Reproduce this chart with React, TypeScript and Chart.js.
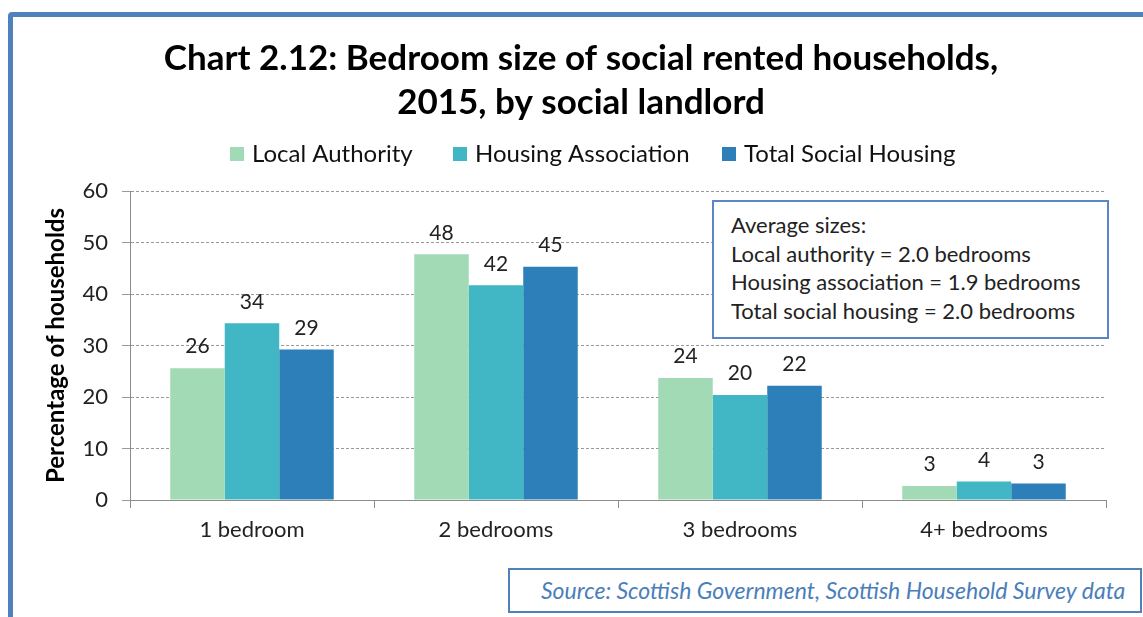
import React, { useEffect, useRef } from "react";
import { Chart, registerables } from "chart.js";

Chart.register(...registerables);

const FONT = "Lato, 'Open Sans', sans-serif";

const titleLines = [
  "Chart 2.12: Bedroom size of social rented households,",
  "2015, by social landlord",
];
const categories = ["1 bedroom", "2 bedrooms", "3 bedrooms", "4+ bedrooms"];
const seriesNames = ["Local Authority", "Housing Association", "Total Social Housing"];
const localAuthority = [25.6, 47.7, 23.7, 2.7];
const housingAssociation = [34.3, 41.7, 20.4, 3.6];
const totalSocialHousing = [29.2, 45.3, 22.2, 3.2];
const seriesColors = ["#A1DAB4", "#41B6C4", "#2C7FB8"];
const yMin = 0;
const yMax = 60;
const yStep = 10;
const yAxisTitle = "Percentage of households";
const noteLines = [
  "Average sizes:",
  "Local authority = 2.0 bedrooms",
  "Housing association = 1.9 bedrooms",
  "Total social housing = 2.0 bedrooms",
];
const sourceText = "Source: Scottish Government, Scottish Household Survey data";

const headerPlugin = {
  id: "header",
  afterDraw(chart: any) {
    const ctx = chart.ctx;
    ctx.save();
    ctx.fillStyle = "#000";
    ctx.font = `bold 35px ${FONT}`;
    ctx.textAlign = "center";
    ctx.textBaseline = "alphabetic";
    ctx.fillText(titleLines[0], 581, 70);
    ctx.fillText(titleLines[1], 581, 114);
    ctx.font = `24px ${FONT}`;
    ctx.textAlign = "left";
    const xs = [230, 453, 722];
    chart.data.datasets.forEach((ds: any, i: number) => {
      ctx.fillStyle = ds.backgroundColor;
      ctx.fillRect(xs[i], 147, 14, 14);
      ctx.fillStyle = "#111";
      ctx.fillText(ds.label, xs[i] + 22, 162);
    });
    ctx.restore();
  },
};

const valueLabelPlugin = {
  id: "valueLabels",
  afterDatasetsDraw(chart: any) {
    const ctx = chart.ctx;
    ctx.save();
    ctx.font = `21px ${FONT}`;
    ctx.fillStyle = "#222";
    ctx.textAlign = "center";
    ctx.textBaseline = "bottom";
    chart.data.datasets.forEach((ds: any, i: number) => {
      const meta = chart.getDatasetMeta(i);
      meta.data.forEach((bar: any, j: number) => {
        ctx.fillText(String(Math.round(ds.data[j])), bar.x, bar.y - 11);
      });
    });
    ctx.restore();
  },
};

export default function App() {
  const canvasRef = useRef<HTMLCanvasElement | null>(null);

  useEffect(() => {
    document.body.style.margin = "0";
    const canvas = canvasRef.current;
    if (!canvas) return;
    const chart = new Chart(canvas, {
      type: "bar",
      data: {
        labels: categories,
        datasets: [
          { label: seriesNames[0], data: localAuthority, backgroundColor: seriesColors[0] },
          { label: seriesNames[1], data: housingAssociation, backgroundColor: seriesColors[1] },
          { label: seriesNames[2], data: totalSocialHousing, backgroundColor: seriesColors[2] },
        ],
      },
      options: {
        responsive: false,
        animation: false,
        layout: { padding: { top: 191, left: 42, right: 37, bottom: 67 } },
        datasets: {
          bar: { categoryPercentage: 0.67, barPercentage: 1.0, borderWidth: 0 },
        },
        plugins: {
          legend: { display: false },
          title: { display: false },
          tooltip: { enabled: false },
        },
        scales: {
          x: {
            afterFit: (scale: any) => {
              scale.height = 50;
            },
            grid: {
              offset: true,
              drawOnChartArea: false,
              drawTicks: true,
              tickLength: 8,
              color: "#8C8C8C",
            },
            border: { display: true, color: "#8C8C8C", width: 1 },
            ticks: {
              padding: 9,
              color: "#222",
              font: { family: FONT, size: 22 },
            },
          },
          y: {
            min: yMin,
            max: yMax,
            afterFit: (scale: any) => {
              scale.width = 88;
            },
            ticks: {
              stepSize: yStep,
              padding: 14,
              color: "#222",
              font: { family: FONT, size: 22 },
            },
            grid: {
              color: "#9A9A9A",
              tickLength: 8,
            },
            border: { display: true, color: "#8C8C8C", width: 1, dash: [3, 2] },
            title: {
              display: true,
              text: yAxisTitle,
              color: "#000",
              font: { family: FONT, size: 24, weight: "bold" },
              padding: { top: 0, bottom: 0 },
            },
          },
        },
      },
      plugins: [headerPlugin, valueLabelPlugin],
    });
    return () => chart.destroy();
  }, []);

  return (
    <div style={{ position: "relative", width: 1143, height: 617, background: "#fff", overflow: "hidden", fontFamily: FONT }}>
      <div
        style={{
          position: "absolute",
          left: 8,
          top: 12,
          width: 1200,
          height: 700,
          border: "5px solid #4F81BD",
          borderRadius: 4,
          boxSizing: "border-box",
        }}
      />
      <canvas ref={canvasRef} width={1143} height={617} style={{ position: "absolute", left: 0, top: 0 }} />
      <div
        style={{
          position: "absolute",
          left: 712,
          top: 200,
          width: 397,
          height: 139,
          border: "2px solid #5B86C5",
          boxSizing: "border-box",
          background: "#fff",
          padding: "9px 0 0 17px",
          fontSize: 22,
          lineHeight: "28.5px",
          color: "#222",
          whiteSpace: "nowrap",
        }}
      >
        {noteLines.map((l) => (
          <div key={l}>{l}</div>
        ))}
      </div>
      <div
        style={{
          position: "absolute",
          left: 508,
          top: 568,
          width: 634,
          height: 45,
          border: "2px solid #4F81BD",
          boxSizing: "border-box",
          background: "#fff",
          paddingLeft: 31,
          fontSize: 23,
          lineHeight: "41px",
          fontStyle: "italic",
          color: "#4A7EBB",
          whiteSpace: "nowrap",
        }}
      >
        {sourceText}
      </div>
    </div>
  );
}
